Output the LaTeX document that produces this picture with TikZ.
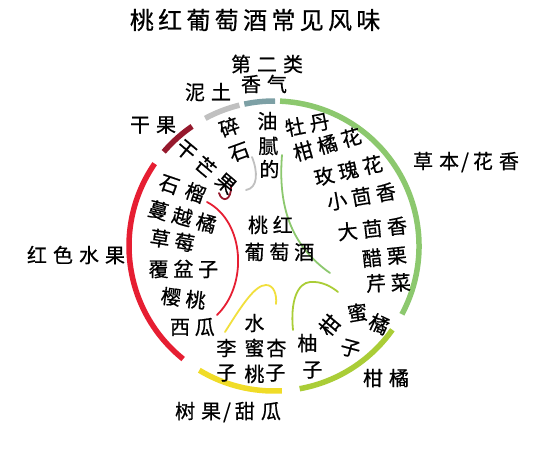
\documentclass[tikz,border=0pt]{standalone}
\usepackage{fontspec}
\setmainfont{Noto Sans CJK SC}
\newfontfamily\fA[LetterSpace=24,FakeBold=0.6]{Noto Sans CJK SC}
\newfontfamily\fB[LetterSpace=30,FakeBold=0.6]{Noto Sans CJK SC}
\newfontfamily\fT[LetterSpace=18,FakeBold=0.6]{Noto Sans CJK SC}
\usetikzlibrary{calc}
\definecolor{cRed}{RGB}{230,30,50}
\definecolor{cDark}{RGB}{150,25,45}
\definecolor{cGray}{RGB}{192,192,192}
\definecolor{cBlue}{RGB}{125,160,165}
\definecolor{cGreen}{RGB}{140,200,110}
\definecolor{cYel}{RGB}{240,220,40}
\definecolor{cYG}{RGB}{170,205,55}
\begin{document}
\begin{tikzpicture}[x=1pt,y=-1pt,
  txt/.style={inner sep=0pt, font=\fA\fontsize{20}{20}\selectfont, execute at end node={\kern-0.24em}},
  outer/.style={inner sep=0pt, font=\fB\fontsize{20}{20}\selectfont, execute at end node={\kern-0.30em}},
  ttl/.style={inner sep=0pt, font=\fT\fontsize{24}{24}\selectfont, execute at end node={\kern-0.18em}},
  bigarc/.style={line width=5.5pt},
  thin/.style={line width=1.8pt, line cap=round}]
\useasboundingbox (0,0) rectangle (555,459);
\fill[white] (0,0) rectangle (555,459);
\coordinate (O) at (274,246);
% outer arcs
\draw[bigarc,cRed]   ($(O)+(-145.4:145)$) arc[start angle=-145.4,end angle=-231.2,radius=145];
\draw[bigarc,cDark]  ($(O)+(-124.4:145)$) arc[start angle=-124.4,end angle=-139.5,radius=145];
\draw[bigarc,cGray]  ($(O)+(-103.8:145)$) arc[start angle=-103.8,end angle=-118.3,radius=145];
\draw[bigarc,cBlue]  ($(O)+(-89.6:145)$) arc[start angle=-89.6,end angle=-101.8,radius=145];
\draw[bigarc,cGreen] ($(O)+(28.1:145)$) arc[start angle=28.1,end angle=-87.6,radius=145];
\draw[bigarc,cYG]    ($(O)+(35.3:145)$) arc[start angle=35.3,end angle=79.8,radius=145];
\draw[bigarc,cYel]   ($(O)+(86.9:145)$) arc[start angle=86.9,end angle=121,radius=145];
% inner thin curves
\draw[thin,cGray] (252,157) .. controls (258,172) and (258,188) .. (246,190);
\draw[thin,cDark] (219,193) .. controls (222,203) and (232,201) .. (231,185);
\draw[thin,cRed] (207,202) .. controls (245,222) and (248,285) .. (217,315);
\draw[thin,cGreen] (282,155) .. controls (278,205) and (290,245) .. (330,273);
\draw[thin,cYel!90!white] (225,332) .. controls (242,305) and (255,285) .. (266,285) .. controls (274,285) and (277,295) .. (276,304);
\draw[thin,cYG] (293,330) .. controls (290,300) and (298,283) .. (310,282) .. controls (322,281) and (332,287) .. (338,292);
% title and category labels
\node[ttl] (title) at (253,20) {桃红葡萄酒常见风味};
\node[outer] (second) at (264,64) {第二类};
\node[outer] (earth1) at (205,92) {泥土};
\node[outer] (earth2) at (261,84) {香气};
\node[outer] (dry) at (150,125) {干果};
\node[outer] (redfruit) at (73,255) {红色水果};
\node[outer] (herb) at (463,162) {草本\kern2pt/\kern4pt 花香};
\node[outer] (citrus) at (383,378) {柑橘};
\node[outer] (tree) at (225,412) {树果\kern2pt/\kern4pt 甜瓜};
% centre
\node[txt] (c1) at (268,225) {桃红};
\node[txt] (c2) at (277,252) {葡萄酒};
% top
\node[txt,rotate=20] (s1) at (227,128) {碎};
\node[txt,rotate=20] (s2) at (237,153) {石};
\node[txt] (y1) at (265,121) {油};
\node[txt] (y2) at (266,146) {腻};
\node[txt] (y3) at (267,169) {的};
\node[txt,rotate=-40] (dm1) at (184,149) {干};
\node[txt,rotate=-40] (dm2) at (204,165) {芒};
\node[txt,rotate=-40] (dm3) at (224,182) {果};
% red fruit
\node[txt,rotate=-19] (r1a) at (167,184) {石};
\node[txt,rotate=-19] (r1b) at (193,192) {榴};
\node[txt,rotate=-15] (r2) at (180,216) {蔓越橘};
\node[txt,rotate=-9] (r3) at (170,240) {草莓};
\node[txt] (r4) at (181,269) {覆盆子};
\node[txt,rotate=-7] (r5) at (181,298) {樱桃};
\node[txt] (r6) at (190,327) {西瓜};
% herbal / floral
\node[txt,rotate=11] (h1) at (305,125) {牡丹};
\node[txt,rotate=16] (h2) at (325,145) {柑橘花};
\node[txt,rotate=13] (h3) at (346,171) {玫瑰花};
\node[txt,rotate=10] (h4) at (359,197) {小茴香};
\node[txt,rotate=6] (h5) at (370,229) {大茴香};
\node[txt,rotate=6] (h6) at (382,257) {醋栗};
\node[txt,rotate=2] (h7) at (386,283) {芹菜};
% tree fruit
\node[txt] (t1) at (224,348) {李};
\node[txt] (t2) at (224,373) {子};
\node[txt] (t3) at (252,323) {水};
\node[txt] (t4) at (252,348) {蜜};
\node[txt] (t5) at (252,374) {桃};
\node[txt] (t6) at (274,348) {杏};
\node[txt] (t7) at (273,373) {子};
% citrus
\node[txt] (g1) at (305,343) {柚};
\node[txt] (g2) at (310,370) {子};
\node[txt,rotate=50] (g3) at (328,327) {柑};
\node[txt,rotate=8] (g4) at (355,313) {蜜};
\node[txt,rotate=-25] (g5) at (377,323) {橘};
\node[txt,rotate=-15] (g6) at (348,348) {子};
\end{tikzpicture}
\end{document}
